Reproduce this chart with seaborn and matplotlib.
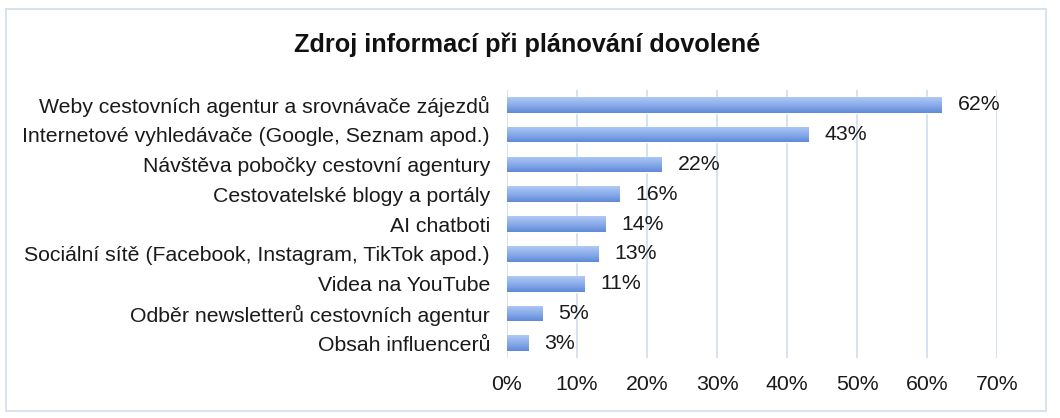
import numpy as np
import pandas as pd
import seaborn as sns
import matplotlib.pyplot as plt
from matplotlib.patches import Rectangle
from matplotlib.ticker import PercentFormatter

# data
sources = [
    'Weby cestovních agentur a srovnávače zájezdů',
    'Internetové vyhledávače (Google, Seznam apod.)',
    'Návštěva pobočky cestovní agentury',
    'Cestovatelské blogy a portály',
    'AI chatboti',
    'Sociální sítě (Facebook, Instagram, TikTok apod.)',
    'Videa na YouTube',
    'Odběr newsletterů cestovních agentur',
    'Obsah influencerů',
]
shares = [62, 43, 22, 16, 14, 13, 11, 5, 3]

df = pd.DataFrame({'Zdroj': sources, 'Podíl': shares})

sns.set_theme(style='white')
plt.rcParams['font.family'] = ['Liberation Sans', 'DejaVu Sans']

fig = plt.figure(figsize=(10.6, 4.18), dpi=100)
ax = fig.add_axes([0.478, 0.143, 0.463, 0.642])

sns.barplot(data=df, x='Podíl', y='Zdroj', orient='h', width=0.53,
            color='#7ea3e3', ax=ax, zorder=2)

# vertical gradient fill on each bar
grad = np.linspace(0, 1, 64).reshape(-1, 1)
cmap = plt.matplotlib.colors.LinearSegmentedColormap.from_list(
    'bar', ['#b0c9f4', '#8aaceb', '#5f8ad6'])
for p in ax.patches:
    x0, y0 = p.get_x(), p.get_y()
    w, h = p.get_width(), p.get_height()
    im = ax.imshow(grad, cmap=cmap, aspect='auto', zorder=3,
                   extent=[x0, x0 + w, y0 + h, y0], origin='upper')
    im.set_clip_path(p)
    ax.text(x0 + w + 2.4, y0 + h / 2, f'{int(w)}%', va='center', ha='left',
            fontsize=15.3, color='#1a1a1a')

ax.set_xlim(0, 70)
ax.set_ylim(8.5, -0.5)
ax.set_xticks(range(0, 71, 10))
ax.xaxis.set_major_formatter(PercentFormatter(decimals=0))
ax.grid(axis='x', color='#d3dfee', linewidth=1.3, zorder=0)
ax.set_axisbelow(True)
for s in ax.spines.values():
    s.set_visible(False)
ax.set_xlabel('')
ax.set_ylabel('')
ax.tick_params(axis='both', length=0, labelsize=15.3, colors='#1a1a1a')
ax.tick_params(axis='x', pad=12)
ax.tick_params(axis='y', pad=12)

fig.text(0.497, 0.893, 'Zdroj informací při plánování dovolené', ha='center',
         va='center', fontsize=18.2, fontweight='bold', color='#111111')

fig.patches.append(Rectangle((6 / 1060, 1 - 411 / 418), 1040 / 1060, 402 / 418,
                             transform=fig.transFigure, fill=False,
                             edgecolor='#d6e0ec', linewidth=1.3))

fig.savefig('out.png', dpi=100)
